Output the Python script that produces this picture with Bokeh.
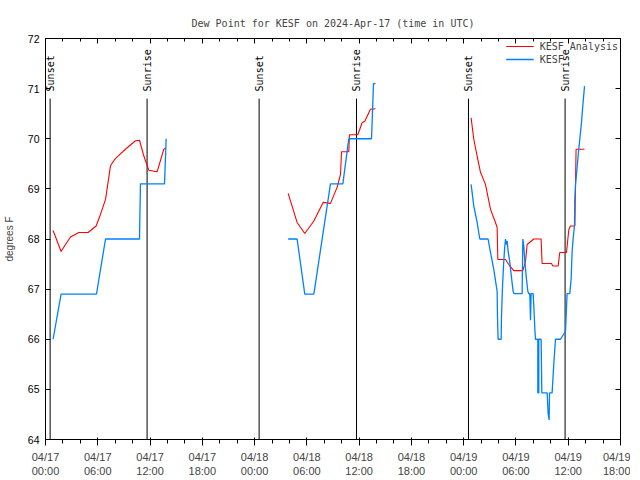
import math
import numpy as np
import pandas as pd
from bokeh.plotting import figure
from bokeh.models import (Range1d, FixedTicker, DatetimeTickFormatter, LinearAxis,
                          Legend, LegendItem, CustomJSTickFormatter)
from bokeh.embed import file_html
from bokeh.resources import INLINE
from bokeh.core.properties import value

TITLE = "Dew Point for KESF on 2024-Apr-17 (time in UTC)"
START = pd.Timestamp("2024-04-17 00:00")
END = pd.Timestamp("2024-04-19 18:00")
Y_MIN, Y_MAX = 64, 72
nan = float("nan")

# hours since 2024-04-17 00:00 UTC (nan = gap between data blocks)
analysis_hours = [0.87, 1.79, 2.30, 2.87, 3.82, 4.89, 5.81, 6.31, 6.89, 7.46, 7.95, 8.41, 9.37,
                  10.33, 10.79, 11.28, 11.86, 12.81, 13.58, 13.77, nan,
                  27.85, 28.88, 29.76, 30.80, 31.87, 32.71, 33.47, 33.86, 33.98, 34.81, 34.89,
                  35.85, 36.34, 36.65, 37.30, 37.88, nan,
                  48.85, 49.16, 49.54, 49.93, 50.50, 51.08, 51.65, 51.84, 51.92, 52.80, 53.18,
                  53.75, 54.79, 55.10, 55.28, 56.05, 56.89, 57.00, 58.08, 58.23, 58.84, 59.03,
                  59.80, 60.07, 60.26, 60.76, 60.90, 61.87]
analysis_dewpt = [68.17, 67.75, 67.89, 68.04, 68.13, 68.13, 68.26, 68.49, 68.79, 69.46, 69.59, 69.67, 69.82,
                  69.96, 69.97, 69.66, 69.37, 69.34, 69.79, 69.81, nan,
                  68.91, 68.33, 68.11, 68.36, 68.73, 68.71, 69.03, 69.29, 69.74, 69.74, 70.08,
                  70.08, 70.32, 70.35, 70.59, 70.60, nan,
                  70.42, 69.99, 69.66, 69.33, 69.09, 68.59, 68.33, 68.23, 67.59, 67.59, 67.49,
                  67.37, 67.37, 67.56, 67.89, 68.00, 68.00, 67.51, 67.51, 67.46, 67.46, 67.73,
                  67.73, 68.19, 68.26, 68.26, 69.79, 69.79]

obs_hours = [0.87, 1.79, 5.85, 6.89, 10.79, 10.90, 13.66, 13.85, nan,
             27.85, 28.88, 29.76, 30.80, 32.71, 34.13, 34.81, 37.42, 37.65, 37.88, nan,
             48.85, 49.16, 49.54, 49.85, 50.80, 51.08, 51.46, 51.72, 51.84, 51.88, 51.95, 52.30,
             52.34, 52.46, 52.57, 52.69, 52.80, 52.92, 52.99, 53.10, 53.30, 53.49, 53.67, 53.79,
             54.71, 54.79, 54.90, 55.02, 55.17, 55.36, 55.48, 55.59, 55.67, 55.74, 55.97, 56.05,
             56.16, 56.24, 56.51, 56.51, 56.62, 56.62, 56.89, 56.97, 57.58, 57.69, 57.81, 57.85,
             58.15, 58.34, 58.54, 59.11, 59.69, 59.87, 60.18, 60.33, 60.45, 60.56, 60.72, 60.76,
             60.84, 61.21, 61.52, 61.67, 61.87]
obs_dewpt = [66.0, 66.9, 66.9, 68.0, 68.0, 69.1, 69.1, 70.0, nan,
             68.0, 68.0, 66.9, 66.9, 69.1, 69.1, 70.0, 70.0, 71.1, 71.1, nan,
             69.09, 68.66, 68.33, 68.0, 68.0, 67.73, 67.39, 67.09, 66.96, 66.46, 66.0, 66.0,
             66.46, 67.06, 67.46, 67.79, 68.0, 67.89, 67.96, 67.76, 67.53, 67.23, 66.96, 66.91,
             66.91, 68.0, 67.86, 67.56, 67.26, 66.96, 66.91, 66.91, 66.38, 66.91, 66.91, 66.66,
             66.23, 66.0, 66.0, 64.93, 64.93, 66.0, 66.0, 64.93, 64.93, 64.53, 64.39, 64.93,
             64.93, 65.5, 66.0, 66.0, 66.16, 66.91, 66.91, 67.19, 67.76, 68.0, 68.27, 68.79,
             69.09, 69.79, 70.32, 70.65, 71.05]

event_hours = [0.53, 11.66, 24.52, 35.70, 48.55, 59.64]
event_labels = ["Sunset", "Sunrise", "Sunset", "Sunrise", "Sunset", "Sunrise"]

tick_hours = list(range(0, 67, 6))
minor_tick_hours = list(range(0, 67, 2))
y_ticks = list(range(Y_MIN, Y_MAX + 1))

MS_H = 3600000.0
start_ms = START.value / 1e6
end_ms = END.value / 1e6


def to_ms(hours):
    return [start_ms + h * MS_H for h in hours]


MONO = value("DejaVu Sans Mono")

p = figure(frame_width=575, frame_height=401, x_axis_type="datetime",
           x_range=Range1d(start_ms, end_ms), y_range=Range1d(Y_MIN, Y_MAX),
           output_backend="svg", toolbar_location=None,
           min_border_left=39, min_border_right=10, min_border_top=38, min_border_bottom=30,
           title=TITLE)
p.title.text_font = "DejaVu Sans Mono"
p.title.text_font_size = "10px"
p.title.text_font_style = "normal"
p.title.align = "center"
p.title.standoff = 19
p.grid.visible = False
p.outline_line_color = "black"
p.background_fill_color = "white"
p.border_fill_color = "white"

xticker = FixedTicker(ticks=to_ms(tick_hours), minor_ticks=to_ms(minor_tick_hours))
fmt = "%m/%d\n%H:%M"
xfmt = DatetimeTickFormatter(hours=fmt, hourmin=fmt, days=fmt, minutes=fmt, context=None)
yticker = FixedTicker(ticks=y_ticks, minor_ticks=[])
blank = CustomJSTickFormatter(code="return '';")

for ax in p.xaxis:
    ax.ticker = xticker
    ax.formatter = xfmt
for ax in p.yaxis:
    ax.ticker = yticker

top = LinearAxis(ticker=xticker, formatter=blank, major_label_standoff=0)
right = LinearAxis(ticker=yticker, formatter=blank, major_label_standoff=0)
p.add_layout(top, "above")
p.add_layout(right, "right")

for ax in [p.xaxis[0], p.yaxis[0], top, right]:
    ax.axis_line_color = "black"
    ax.major_tick_line_color = "black"
    ax.minor_tick_line_color = "black"
    ax.major_tick_in = 5
    ax.major_tick_out = 0
    ax.minor_tick_in = 3
    ax.minor_tick_out = 0
    ax.major_label_text_color = "black"

p.xaxis[0].major_label_text_font = "Liberation Sans"
p.xaxis[0].major_label_text_font_size = "9.5px"
p.xaxis[0].major_label_text_line_height = 1.05
p.xaxis[0].major_label_standoff = 4
p.yaxis[0].major_label_text_font = "Liberation Sans"
p.yaxis[0].major_label_text_font_size = "10.5px"
p.yaxis[0].major_label_standoff = 6
p.yaxis[0].axis_label = "degrees F"
p.yaxis[0].axis_label_text_font = "Liberation Sans"
p.yaxis[0].axis_label_text_font_size = "10px"
p.yaxis[0].axis_label_text_font_style = "normal"
p.yaxis[0].axis_label_standoff = 10

# sunrise / sunset markers
line_top = Y_MIN + 0.85 * (Y_MAX - Y_MIN)
label_y = Y_MIN + 0.868 * (Y_MAX - Y_MIN)
ev_x = to_ms(event_hours)
p.segment(x0=ev_x, y0=[Y_MIN] * len(ev_x), x1=ev_x, y1=[line_top] * len(ev_x),
          line_color="black", line_width=1)
p.text(x=ev_x, y=[label_y] * len(ev_x), text=event_labels, angle=math.pi / 2,
       text_align="left", text_baseline="middle", text_font=MONO,
       text_font_size="10px", text_color="black")

r_an = p.line(to_ms(analysis_hours), analysis_dewpt, line_color="#ff0000", line_width=1.1)
r_ob = p.line(to_ms(obs_hours), obs_dewpt, line_color="#0080ff", line_width=1.3)

legend = Legend(items=[LegendItem(label="KESF Analysis", renderers=[r_an]),
                       LegendItem(label="KESF", renderers=[r_ob])],
                location="top_right")
legend.border_line_color = None
legend.background_fill_alpha = 0
legend.label_text_font = "DejaVu Sans Mono"
legend.label_text_font_size = "10px"
legend.glyph_width = 28
legend.glyph_height = 12
legend.label_height = 12
legend.spacing = 1
legend.padding = 3
legend.margin = 2
legend.label_standoff = 6
p.add_layout(legend)

open("out.html", "w").write(file_html(p, INLINE))
